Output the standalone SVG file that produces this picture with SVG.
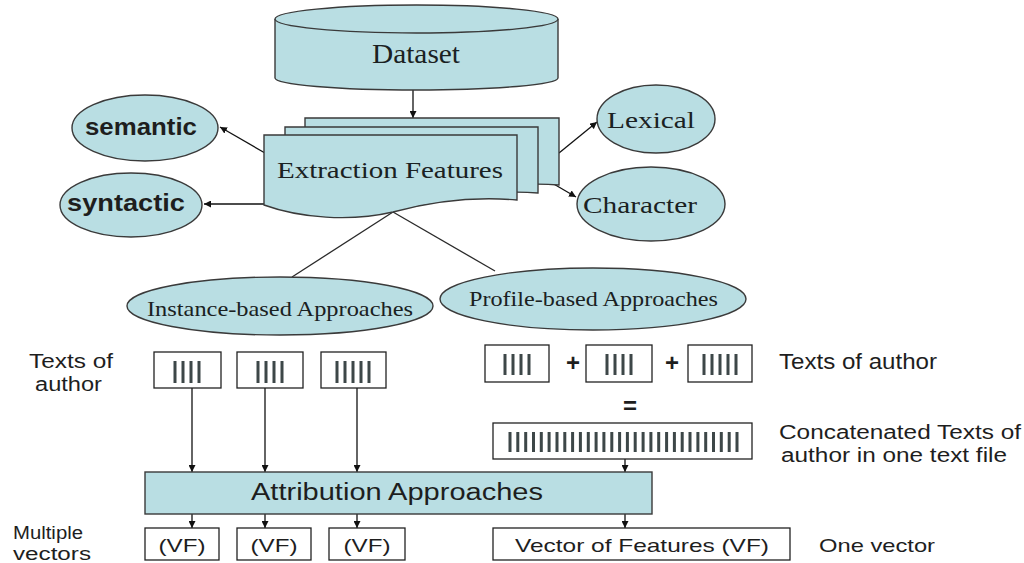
<svg xmlns="http://www.w3.org/2000/svg" width="1024" height="563" viewBox="0 0 1024 563">
<defs>
<style>
.sh{fill:#b9dee3;stroke:#3a3a3a;stroke-width:1.4}
.bx{fill:#fff;stroke:#222;stroke-width:1.3}
.ln{stroke:#2a2a2a;stroke-width:1.3;fill:none}
.ar{stroke:#111;stroke-width:1.3;fill:none;marker-end:url(#ah)}
.sf{font-family:"Liberation Serif","Times New Roman",serif;fill:#1a2122}
.ss{font-family:"Liberation Sans",Arial,sans-serif;fill:#1e1e1e}
.bd{font-weight:bold}
.bar{stroke:#3d4748;stroke-width:3}
</style>
<marker id="ah" viewBox="0 0 10 10" refX="10" refY="5" markerWidth="7" markerHeight="7" markerUnits="userSpaceOnUse" orient="auto">
<path d="M0,0 L10,5 L0,10 Z" fill="#111"/>
</marker>
</defs>
<rect width="1024" height="563" fill="#fff"/>

<g id="connectors">
<line class="ar" x1="413" y1="90" x2="413" y2="118"/>
<line class="ar" x1="265" y1="153" x2="220" y2="127"/>
<line class="ar" x1="264" y1="204" x2="204" y2="204"/>
<line class="ar" x1="559" y1="153" x2="597" y2="122"/>
<line class="ar" x1="552" y1="183" x2="576" y2="197"/>
<line class="ln" x1="393" y1="212" x2="292" y2="277"/>
<line class="ln" x1="393" y1="212" x2="495" y2="271"/>
<line class="ar" x1="192" y1="388" x2="192" y2="472"/>
<line class="ar" x1="265" y1="388" x2="265" y2="472"/>
<line class="ar" x1="357" y1="388" x2="357" y2="472"/>
<line class="ar" x1="625" y1="459" x2="625" y2="472"/>
<line class="ar" x1="192" y1="514" x2="192" y2="528"/>
<line class="ar" x1="265" y1="514" x2="265" y2="528"/>
<line class="ar" x1="357" y1="514" x2="357" y2="528"/>
<line class="ar" x1="625" y1="514" x2="625" y2="528"/>
</g>

<g id="dataset">
<path class="sh" d="M275,19 V78 A141.5,12 0 0 0 558,78 V19"/>
<ellipse class="sh" cx="416.5" cy="19" rx="141.5" ry="14"/>
<text class="sf" x="372" y="63" font-size="27" textLength="88" lengthAdjust="spacingAndGlyphs">Dataset</text>
</g>

<g id="extraction">
<path class="sh" d="M305,118 H559 V185 C520,182 480,188 450,195 C410,205 350,200 305,190 Z"/>
<path class="sh" d="M285,127 H538 V193 C500,190 460,196 430,203 C390,213 330,208 285,198 Z"/>
<path class="sh" d="M264,135 H517 V200 C470,196 430,202 393,212 C350,222 300,218 264,205 Z"/>
<text class="sf" x="277" y="178" font-size="24" textLength="226" lengthAdjust="spacingAndGlyphs">Extraction Features</text>
</g>

<g id="semantic">
<ellipse class="sh" cx="145" cy="128" rx="73" ry="33"/>
<text class="ss bd" x="85" y="135" font-size="24" textLength="112" lengthAdjust="spacingAndGlyphs">semantic</text>
</g>
<g id="syntactic">
<ellipse class="sh" cx="131" cy="205" rx="71" ry="32"/>
<text class="ss bd" x="67" y="211" font-size="24" textLength="118" lengthAdjust="spacingAndGlyphs">syntactic</text>
</g>
<g id="lexical">
<ellipse class="sh" cx="656" cy="119" rx="59" ry="34"/>
<text class="sf" x="607" y="128" font-size="24" textLength="88" lengthAdjust="spacingAndGlyphs">Lexical</text>
</g>
<g id="character">
<ellipse class="sh" cx="651" cy="204" rx="74" ry="37"/>
<text class="sf" x="583" y="213" font-size="24" textLength="114" lengthAdjust="spacingAndGlyphs">Character</text>
</g>

<g id="instance">
<ellipse class="sh" cx="280" cy="306" rx="153" ry="29"/>
<text class="sf" x="147" y="316" font-size="21" textLength="266" lengthAdjust="spacingAndGlyphs">Instance-based Approaches</text>
</g>
<g id="profile">
<ellipse class="sh" cx="593" cy="299" rx="153" ry="31"/>
<text class="sf" x="469" y="306" font-size="21" textLength="249" lengthAdjust="spacingAndGlyphs">Profile-based Approaches</text>
</g>

<g id="label-texts-left">
<text class="ss" x="29" y="368" font-size="20" textLength="84" lengthAdjust="spacingAndGlyphs">Texts of</text>
<text class="ss" x="35" y="391" font-size="20" textLength="67" lengthAdjust="spacingAndGlyphs">author</text>
</g>

<g id="text-box-1">
<rect class="bx" x="154" y="352" width="67" height="36"/>
<path class="bar" d="M175,361V383M183,361V383M191,361V383M199,361V383"/>
</g>
<g id="text-box-2">
<rect class="bx" x="237" y="352" width="66" height="36"/>
<path class="bar" d="M258,361V383M266,361V383M274,361V383M282,361V383"/>
</g>
<g id="text-box-3">
<rect class="bx" x="321" y="352" width="65" height="36"/>
<path class="bar" d="M337,361V383M345,361V383M353,361V383M361,361V383M369,361V383"/>
</g>

<g id="profile-box-1">
<rect class="bx" x="485" y="345" width="64" height="37"/>
<path class="bar" d="M505,354V375M513,354V375M521,354V375M529,354V375"/>
</g>
<text class="ss bd" x="573" y="371" font-size="24" text-anchor="middle">+</text>
<g id="profile-box-2">
<rect class="bx" x="586" y="345" width="66" height="37"/>
<path class="bar" d="M607,354V375M615,354V375M623,354V375M631,354V375"/>
</g>
<text class="ss bd" x="672" y="371" font-size="24" text-anchor="middle">+</text>
<g id="profile-box-3">
<rect class="bx" x="688" y="345" width="64" height="37"/>
<path class="bar" d="M704,354V375M712,354V375M720,354V375M728,354V375M736,354V375"/>
</g>
<text class="ss" x="779" y="369" font-size="22" textLength="158" lengthAdjust="spacingAndGlyphs">Texts of author</text>
<text class="ss bd" x="630" y="414" font-size="24" text-anchor="middle">=</text>

<g id="concat-box">
<rect class="bx" x="493" y="423" width="259" height="36"/>
<path class="bar" d="M510,432V452M517.8,432V452M525.7,432V452M533.5,432V452M541.3,432V452M549.1,432V452M557,432V452M564.8,432V452M572.6,432V452M580.4,432V452M588.3,432V452M596.1,432V452M603.9,432V452M611.8,432V452M619.6,432V452M627.4,432V452M635.2,432V452M643.1,432V452M650.9,432V452M658.7,432V452M666.6,432V452M674.4,432V452M682.2,432V452M690,432V452M697.9,432V452M705.7,432V452M713.5,432V452M721.3,432V452M729.2,432V452M737,432V452"/>
</g>
<text class="ss" x="779" y="439" font-size="20" textLength="242" lengthAdjust="spacingAndGlyphs">Concatenated Texts of</text>
<text class="ss" x="781" y="462" font-size="20" textLength="226" lengthAdjust="spacingAndGlyphs">author in one text file</text>

<g id="attribution">
<rect class="sh" x="145" y="472" width="507" height="42"/>
<text class="ss" x="251" y="500" font-size="23" textLength="292" lengthAdjust="spacingAndGlyphs">Attribution Approaches</text>
</g>

<g id="label-multiple">
<text class="ss" x="13" y="539" font-size="18" textLength="70" lengthAdjust="spacingAndGlyphs">Multiple</text>
<text class="ss" x="13" y="560" font-size="18" textLength="78" lengthAdjust="spacingAndGlyphs">vectors</text>
</g>
<g id="vf-1">
<rect class="bx" x="145" y="528" width="74" height="32"/>
<text class="ss" x="182" y="552" font-size="19" text-anchor="middle" textLength="47" lengthAdjust="spacingAndGlyphs">(VF)</text>
</g>
<g id="vf-2">
<rect class="bx" x="237" y="528" width="74" height="32"/>
<text class="ss" x="274" y="552" font-size="19" text-anchor="middle" textLength="47" lengthAdjust="spacingAndGlyphs">(VF)</text>
</g>
<g id="vf-3">
<rect class="bx" x="329" y="528" width="76" height="32"/>
<text class="ss" x="367" y="552" font-size="19" text-anchor="middle" textLength="47" lengthAdjust="spacingAndGlyphs">(VF)</text>
</g>
<g id="vf-one">
<rect class="bx" x="493" y="528" width="297" height="32"/>
<text class="ss" x="515" y="552" font-size="19" textLength="254" lengthAdjust="spacingAndGlyphs">Vector of Features (VF)</text>
</g>
<text class="ss" x="819" y="552" font-size="19" textLength="116" lengthAdjust="spacingAndGlyphs">One vector</text>
</svg>
